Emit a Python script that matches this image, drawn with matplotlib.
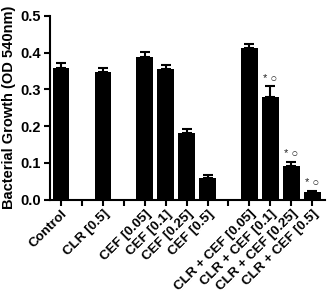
import numpy as np
import matplotlib
matplotlib.use("Agg")
import matplotlib.pyplot as plt

plt.rcParams["font.family"] = ["Liberation Sans", "DejaVu Sans"]
plt.rcParams["font.weight"] = "bold"

# slot positions on the x axis (empty slots 1, 3, 8 separate the groups)
positions = [0, 2, 4, 5, 6, 7, 9, 10, 11, 12]
labels = ["Control", "CLR [0.5]",
          "CEF [0.05]", "CEF [0.1]", "CEF [0.25]", "CEF [0.5]",
          "CLR + CEF [0.05]", "CLR + CEF [0.1]", "CLR + CEF [0.25]", "CLR + CEF [0.5]"]
growth = [0.357, 0.347, 0.387, 0.356, 0.182, 0.059, 0.412, 0.280, 0.092, 0.021]
sem = [0.016, 0.012, 0.014, 0.010, 0.010, 0.009, 0.011, 0.030, 0.011, 0.003]
significant = [False, False, False, False, False, False, False, True, True, True]

fig = plt.figure(figsize=(3.28, 2.96), dpi=100)
ax = fig.add_axes([0.151, 0.326, 0.839, 0.620])

lower = np.zeros(len(growth))
ax.bar(positions, growth, width=0.8, color="black",
       yerr=[lower, sem], capsize=3.5,
       error_kw=dict(ecolor="black", elinewidth=1.5, capthick=1.5))

for x, g, e, sig in zip(positions, growth, sem, significant):
    if sig:
        ax.text(x, g + e + 0.006, "* \u25cb", ha="center", va="bottom",
                fontsize=8, fontweight="normal", color="#222222")

ax.set_xlim(-0.55, 12.6)
ax.set_ylim(0, 0.5)
ax.set_xticks(range(13))
tick_labels = [""] * 13
for p, lab in zip(positions, labels):
    tick_labels[p] = lab
ax.set_xticklabels(tick_labels, rotation=45, ha="right", rotation_mode="anchor",
                   fontsize=9.7, fontweight="bold")
ax.set_yticks([0.0, 0.1, 0.2, 0.3, 0.4, 0.5])
ax.set_yticklabels(["0.0", "0.1", "0.2", "0.3", "0.4", "0.5"], fontsize=10.5, fontweight="bold")
ax.set_ylabel("Bacterial Growth (OD 540nm)", fontsize=10.5, fontweight="bold", labelpad=3)

for side in ["top", "right"]:
    ax.spines[side].set_visible(False)
for side in ["left", "bottom"]:
    ax.spines[side].set_linewidth(1.5)
ax.tick_params(axis="both", direction="out", length=4, width=1.5, pad=2)

fig.savefig("out.png", dpi=100)
